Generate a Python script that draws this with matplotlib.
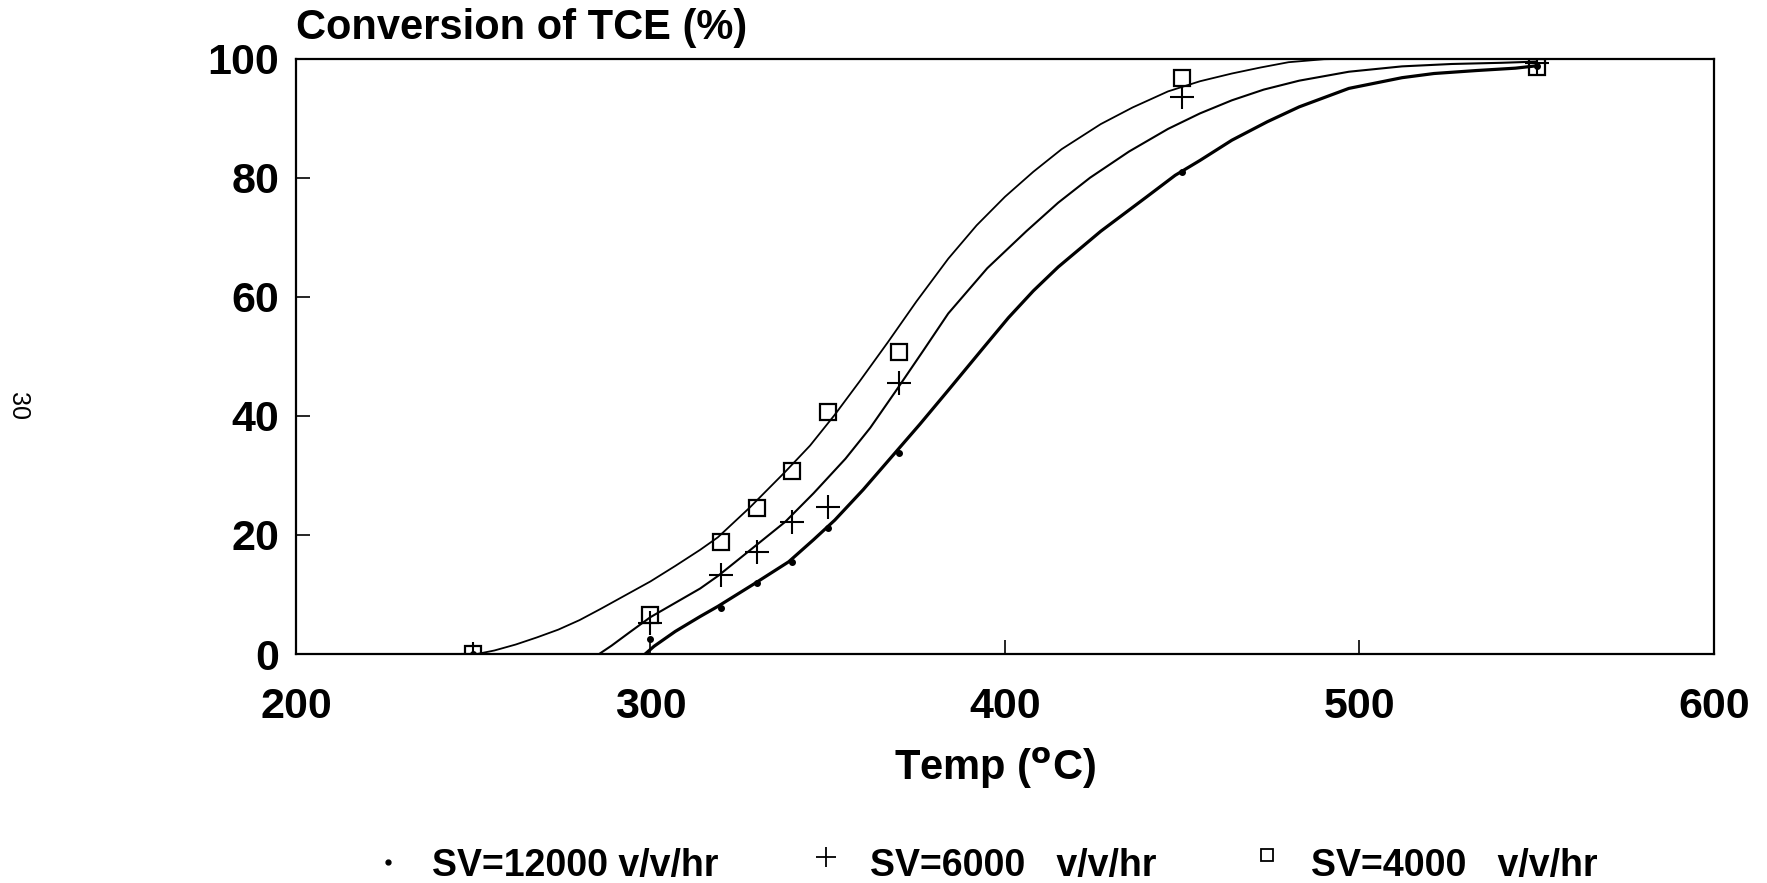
import matplotlib.pyplot as plt

plt.rcParams['font.family'] = ['Liberation Sans', 'DejaVu Sans']

# measured points, temp in C, conversion in %
temp = [250, 300, 320, 330, 340, 350, 370, 450, 550]
sv12000 = [0, 2.6, 7.7, 12.0, 15.5, 21.1, 33.7, 81.0, 98.8]
sv6000 = [0, 5.2, 13.3, 17.2, 22.2, 24.7, 45.5, 93.6, 99.3]
sv4000 = [0, 6.6, 18.9, 24.5, 30.8, 40.7, 50.8, 96.7, 98.6]

# fitted curves
fit4000_t = [251, 256, 262, 268, 274, 280, 286, 293, 300, 307, 314, 319, 328, 338, 345, 352, 359, 367,
             375, 384, 392, 400, 408, 416, 427, 436, 446, 455, 464, 472, 480, 490, 500, 550]
fit4000_y = [0, 0.6, 1.6, 2.8, 4.1, 5.7, 7.6, 9.9, 12.2, 14.8, 17.5, 19.6, 24.6, 30.6, 35.0, 40.2, 45.8, 52.4,
             59.2, 66.4, 72.0, 76.8, 81.0, 84.8, 89.0, 91.8, 94.5, 96.2, 97.5, 98.5, 99.4, 99.9, 100, 100]
fit6000_t = [285.5, 289, 294, 300, 307, 314, 319, 328, 338, 346, 355, 362, 369, 377, 384, 395, 406, 415,
             424, 435, 446, 455, 464, 473, 483, 497, 512, 526, 540, 550]
fit6000_y = [0, 1.4, 3.6, 6.2, 8.6, 11.0, 13.1, 17.4, 22.2, 27.0, 32.8, 38.0, 44.0, 51.0, 57.2, 64.8, 71.0, 75.8,
             80.0, 84.4, 88.2, 90.8, 93.0, 94.8, 96.3, 97.8, 98.7, 99.1, 99.3, 99.5]
fit12000_t = [298.5, 301, 307, 314, 319, 329, 339, 346, 352, 360, 368, 376, 384, 394, 401, 408, 415, 427,
              440, 448, 455, 464, 474, 483, 497, 512, 521, 533, 544, 550]
fit12000_y = [0, 1.3, 3.8, 6.3, 8.0, 11.7, 15.5, 19.2, 22.5, 27.6, 33.1, 38.6, 44.3, 51.5, 56.5, 61.0, 65.0, 71.0,
              76.8, 80.4, 82.9, 86.3, 89.4, 91.9, 95.0, 96.8, 97.5, 98.0, 98.4, 98.8]

xticks = [200, 300, 400, 500, 600]
yticks = [0, 20, 40, 60, 80, 100]

fig = plt.figure(figsize=(17.67, 8.83), dpi=100)
ax = fig.add_axes([0.1675, 0.2593, 0.8025, 0.6743])

ax.plot(fit4000_t, fit4000_y, color='black', lw=1.3, solid_joinstyle='round')
ax.plot(fit6000_t, fit6000_y, color='black', lw=1.5, solid_joinstyle='round')
ax.plot(fit12000_t, fit12000_y, color='black', lw=2.3, solid_joinstyle='round')

ax.plot(temp, sv12000, ls='none', marker='o', ms=4, color='black')
ax.plot(temp, sv6000, ls='none', marker='+', ms=17, mew=1.5, color='black')
ax.plot(temp, sv4000, ls='none', marker='s', ms=12, mew=1.6, mfc='none', mec='black')

ax.set_xlim(200, 600)
ax.set_ylim(0, 100)
ax.set_xticks(xticks)
ax.set_yticks(yticks)
ax.tick_params(direction='in', length=10, width=1.2, labelsize=31)
ax.tick_params(axis='x', pad=24)
ax.tick_params(axis='y', pad=12)
for lab in ax.get_xticklabels() + ax.get_yticklabels():
    lab.set_fontweight('bold')
for s in ax.spines.values():
    s.set_linewidth(1.6)

fig.text(296 / 1767, 1 - 28 / 883, 'Conversion of TCE (%)', fontsize=30, fontweight='bold',
         ha='left', va='center')
fig.text(995 / 1767, 1 - 768 / 883, 'Temp ($\\mathbf{^o}$C)', fontsize=30, fontweight='bold',
         ha='center', va='center')
fig.text(18 / 1767, 1 - 406 / 883, '30', fontsize=18, rotation=270, ha='center', va='center')

# legend row under the chart
leg_y = 1 - 866 / 883
fig.lines.append(plt.Line2D([388 / 1767], [leg_y + 0.004], marker='o', ms=3.5, color='black',
                            transform=fig.transFigure))
fig.lines.append(plt.Line2D([826 / 1767], [leg_y + 0.010], marker='+', ms=14, mew=1.3, color='black',
                            transform=fig.transFigure))
fig.lines.append(plt.Line2D([1267 / 1767], [leg_y + 0.012], marker='s', ms=8, mew=1.3, mfc='none',
                            mec='black', transform=fig.transFigure))
labels = ['SV=12000 v/v/hr', 'SV=6000   v/v/hr', 'SV=4000   v/v/hr']
for xpos, lab in zip([432, 870, 1311], labels):
    fig.text(xpos / 1767, leg_y, lab, fontsize=27, fontweight='bold', ha='left', va='center')

fig.savefig('out.png', dpi=100)
